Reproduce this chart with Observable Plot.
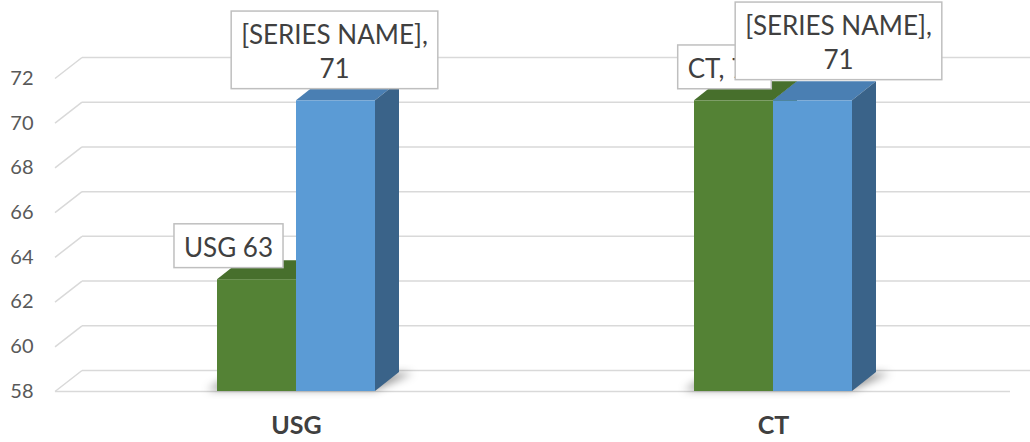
<!DOCTYPE html>
<html><head><meta charset="utf-8">
<script src="https://cdn.jsdelivr.net/npm/d3@7"></script>
<script src="https://cdn.jsdelivr.net/npm/@observablehq/plot@0.6"></script>
<style>html,body{margin:0;padding:0;background:#fff;overflow:hidden;}</style>
</head><body><div id="chart"></div>
<script>
// ---- data ----
const categories = ["USG", "CT"];
const greenValues = [63, 71];
const blueValues = [71, 71];
const greenLabels = ["USG 63", "CT, 71"];
const blueLabels = ["[SERIES NAME],\n71", "[SERIES NAME],\n71"];
const yTicks = [58, 60, 62, 64, 66, 68, 70, 72];

const green = categories.map((c, i) => ({category: c, value: greenValues[i], label: greenLabels[i]}));
const blue = categories.map((c, i) => ({category: c, value: blueValues[i], label: blueLabels[i]}));

// ---- style ----
const FONT = "Lato, 'Open Sans', sans-serif";
const WALL = {dx: 27, dy: -21};
const BAR = {dx: 24, dy: -19};
const GRID = "#d9d9d9";
const LABEL_SIZE = 26, LINE_H = 1.3, PADX = 10, PADY = 5;
const NS = "http://www.w3.org/2000/svg";
function el(tag, attrs) {
  const e = document.createElementNS(NS, tag);
  for (const k in attrs) e.setAttribute(k, attrs[k]);
  return e;
}
const pts = a => a.map(p => p.join(",")).join(" ");
const measureCtx = document.createElement("canvas").getContext("2d");

// slanted wall edge at the left end of each gridline
function slant(data) {
  return Plot.ruleY(data, {
    stroke: GRID, strokeWidth: 1.5,
    render(index, scales, values, dims, ctx, next) {
      const g = next(index, scales, values, dims, ctx);
      g.querySelectorAll("line").forEach(l => {
        const x0 = +l.getAttribute("x1");
        const y0 = +l.getAttribute("y1");
        l.setAttribute("x2", x0 + WALL.dx); l.setAttribute("y2", y0 + WALL.dy);
      });
      return g;
    }
  });
}

// 3D bars: front face from Plot, top & side faces derived from it
function bars3d(data, options, topColor, sideColor) {
  return Plot.barY(data, {
    ...options,
    render(index, scales, values, dims, ctx, next) {
      const g = next(index, scales, values, dims, ctx);
      g.querySelectorAll("rect").forEach(r => {
        const x = +r.getAttribute("x"), y = +r.getAttribute("y");
        const w = +r.getAttribute("width"), h = +r.getAttribute("height");
        g.appendChild(el("polygon", {fill: topColor,
          points: pts([[x, y], [x + w, y], [x + w + BAR.dx, y + BAR.dy], [x + BAR.dx, y + BAR.dy]])}));
        g.appendChild(el("polygon", {fill: sideColor,
          points: pts([[x + w, y], [x + w + BAR.dx, y + BAR.dy], [x + w + BAR.dx, y + h + BAR.dy], [x + w, y + h]])}));
      });
      return g;
    }
  });
}

// soft floor shadow under each group of bars
function shadows(data, options) {
  return Plot.barY(data, {
    ...options,
    render(index, scales, values, dims, ctx, next) {
      const g = next(index, scales, values, dims, ctx);
      const f = el("filter", {id: "shblur", x: "-50%", y: "-50%", width: "200%", height: "200%"});
      f.appendChild(el("feGaussianBlur", {stdDeviation: 4}));
      g.appendChild(f);
      g.querySelectorAll("rect").forEach(r => {
        const x = +r.getAttribute("x"), y = +r.getAttribute("y");
        const w = +r.getAttribute("width"), h = +r.getAttribute("height");
        const b = y + h;
        g.appendChild(el("polygon", {fill: "#000", "fill-opacity": 0.4, filter: "url(#shblur)",
          points: pts([[x - 10, b - 1], [x + w, b - 1], [x + w + BAR.dx + 14, b + BAR.dy + 1], [x + BAR.dx - 6, b + BAR.dy + 1]])}));
        r.remove();
      });
      return g;
    }
  });
}

// data label with a white box behind it
function boxedText(data, options) {
  return Plot.text(data, {
    x: "category", y: "value", text: "label",
    fontSize: LABEL_SIZE, lineHeight: LINE_H, fill: "#404040", fontFamily: FONT,
    ...options,
    render(index, scales, values, dims, ctx, next) {
      const g = next(index, scales, values, dims, ctx);
      const texts = g.querySelectorAll("text");
      measureCtx.font = `${LABEL_SIZE}px Lato`;
      index.forEach((i, k) => {
        const lines = String(data[i].label).split("\n");
        const tw = Math.max(...lines.map(s => measureCtx.measureText(s).width));
        const w = tw + 2 * PADX;
        const h = lines.length * LABEL_SIZE * LINE_H + 2 * PADY;
        const rect = el("rect", {x: values.x[i] - w / 2, y: values.y[i] - h / 2, width: w, height: h,
          fill: "#fff", stroke: "#bfbfbf", "stroke-width": 1.5});
        g.insertBefore(rect, texts[k]);
      });
      return g;
    }
  });
}

const chart = Plot.plot({
  width: 1030, height: 442,
  marginTop: 78, marginBottom: 51, marginLeft: 55, marginRight: 20,
  style: {fontFamily: FONT, background: "transparent", overflow: "visible"},
  x: {domain: categories, paddingInner: 0.669, paddingOuter: 0.335, align: 0.506},
  y: {domain: [yTicks[0], yTicks[yTicks.length - 1]], clamp: true},
  marks: [
    Plot.ruleY(yTicks, {dx: WALL.dx, dy: WALL.dy, stroke: GRID, strokeWidth: 1.5}),
    slant(yTicks),
    Plot.ruleY([yTicks[0]], {stroke: GRID, strokeWidth: 1.5}),
    shadows(green, {x: "category", y: "value"}),
    bars3d(green, {x: "category", y: "value", fill: "#548235", insetRight: 79}, "#476f2c", "#3e6326"),
    bars3d(blue, {x: "category", y: "value", fill: "#5b9bd5", insetLeft: 79}, "#4a7fb3", "#3a6389"),
    boxedText([green[0]], {dx: -68, dy: -34}),
    boxedText([green[1]], {dx: -49, dy: -34}),
    boxedText([blue[0]], {dx: 38, dy: -51}),
    boxedText([blue[1]], {dx: 65, dy: -60}),
    Plot.axisY(yTicks, {tickSize: 0, tickPadding: 22, fontSize: 20, fill: "#595959", label: null}),
    Plot.axisX({tickSize: 0, tickPadding: 25, fontSize: 25, fontWeight: "bold", fill: "#404040", label: null})
  ]
});
document.getElementById("chart").appendChild(chart);
</script>
</body></html>
